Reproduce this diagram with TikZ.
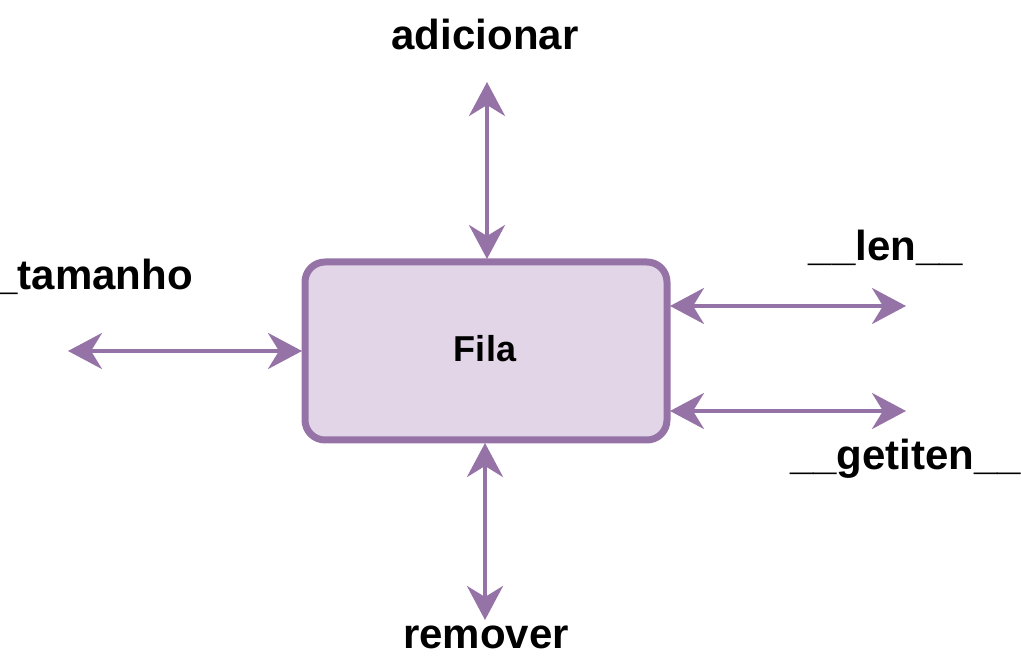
\documentclass[tikz,border=0pt]{standalone}
\usepackage{fontspec}
\setmainfont{Liberation Sans}
\usetikzlibrary{arrows.meta}
\definecolor{pstroke}{HTML}{9673A6}
\definecolor{pfill}{HTML}{E1D5E7}
\begin{document}
\begin{tikzpicture}[x=1pt,y=-1pt,
  lbl/.style={font=\fontsize{42}{50}\selectfont\bfseries, inner sep=0pt},
  link/.style={draw=pstroke, line width=4pt, {Stealth[length=34pt,width=36pt,inset=11pt]}-{Stealth[length=34pt,width=36pt,inset=11pt]}, shorten <=0pt, shorten >=0pt},
  box/.style={draw=pstroke, fill=pfill, line width=7pt, rounded corners=20pt, minimum width=362pt, minimum height=178pt, inner sep=0pt}]
\useasboundingbox (0,0) rectangle (1021,668);
\node[box] (fila) at (486,351) {};
\node[font=\fontsize{36}{42}\selectfont\bfseries, inner sep=0pt, anchor=base] (filatxt) at (485,362) {Fila};
\coordinate (top) at (487,82);
\coordinate (bot) at (485,620);
\coordinate (lft) at (68,351);
\coordinate (r1) at (906,306);
\coordinate (r2) at (906,411);
\coordinate (btop) at (487,259);
\coordinate (bbot) at (485,443);
\coordinate (bl) at (302,351);
\coordinate (br1) at (670,306);
\coordinate (br2) at (670,411);
\draw[link] (top) -- (btop);
\draw[link] (bbot) -- (bot);
\draw[link] (lft) -- (bl);
\draw[link] (br1) -- (r1);
\draw[link] (br2) -- (r2);
\node[lbl, anchor=base] (adic) at (485,50) {adicionar};
\node[lbl, anchor=base east] (tam) at (193,290) {\_tamanho};
\node[lbl, anchor=base] (len) at (886,261) {\_\_len\_\_};
\node[lbl, anchor=base west] (get) at (790,470) {\_\_getiten\_\_};
\node[lbl, anchor=base] (rem) at (486,648) {remover};
\end{tikzpicture}
\end{document}
